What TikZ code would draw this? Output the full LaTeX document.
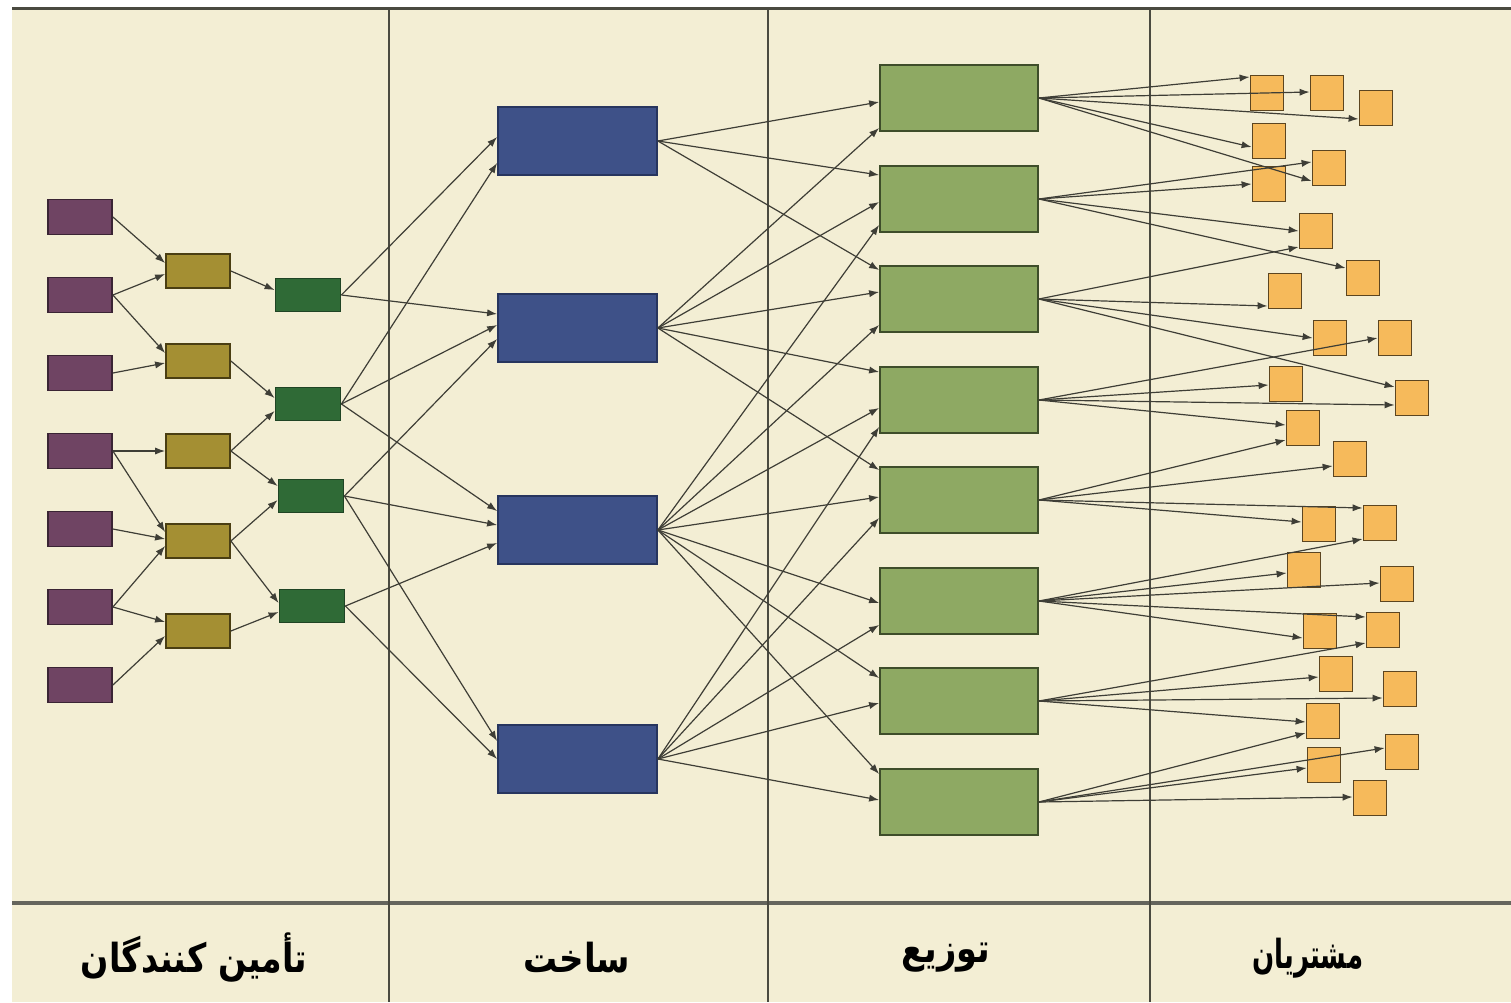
\documentclass[tikz,border=0pt]{standalone}
\usepackage{fontspec}
\newfontfamily\arabicfont[Script=Arabic]{DejaVu Sans}
\TeXXeTstate=1
\usetikzlibrary{arrows.meta,calc}
\definecolor{bg}{HTML}{F3EED4}
\definecolor{rule}{HTML}{4A4A40}
\definecolor{cline}{HTML}{3E3E36}
\definecolor{cpur}{HTML}{6F4463}\definecolor{cpurd}{HTML}{3A2434}
\definecolor{cgold}{HTML}{A48F33}\definecolor{cgoldd}{HTML}{4A3E12}
\definecolor{cdg}{HTML}{2F6A36}\definecolor{cdgd}{HTML}{1F4424}
\definecolor{cblue}{HTML}{3E5188}\definecolor{cblued}{HTML}{27355E}
\definecolor{clg}{HTML}{8EA963}\definecolor{clgd}{HTML}{3E4D2A}
\definecolor{corg}{HTML}{F6BA5B}\definecolor{corgd}{HTML}{5C4520}
\tikzset{
  box/.style={rectangle, inner sep=0pt, line width=0.9pt},
  pur/.style={box, fill=cpur, draw=cpurd, minimum width=32pt, minimum height=17.5pt},
  gold/.style={box, fill=cgold, draw=cgoldd, minimum width=32pt, minimum height=17pt},
  dgr/.style={box, fill=cdg, draw=cdgd, minimum width=32.5pt, minimum height=16.5pt},
  blu/.style={box, fill=cblue, draw=cblued, minimum width=79.5pt, minimum height=34pt},
  lgr/.style={box, fill=clg, draw=clgd, minimum width=79pt, minimum height=33pt},
  org/.style={box, fill=corg, draw=corgd, minimum width=16.5pt, minimum height=17.5pt},
  conn/.style={draw=cline, line width=0.6pt, -{Latex[length=5pt,width=3.6pt]}},
  lbl/.style={font=\arabicfont\bfseries\fontsize{20}{24}\selectfont, text=black, inner sep=0pt},
  vrule/.style={draw=rule, line width=1pt},
}
\newcommand\conto[3]{\draw[conn] (#1.east) -- ($(#2.west)+(0,#3)$);}
\begin{document}
\begin{tikzpicture}[x=0.5pt,y=-0.5pt]
\useasboundingbox (0,0) rectangle (1511,1002);
\fill[white] (0,0) rectangle (1511,1002);
\fill[bg] (12,8) rectangle (1511,1002);
% frame lines
\draw[draw=rule, line width=1.5pt] (12,8) -- (1511,8);
\draw[draw=rule!85, line width=2pt] (12,903) -- (1511,903);
\draw[vrule] (389,8) -- (389,1002);
\draw[vrule] (768,8) -- (768,1002);
\draw[vrule] (1150,8) -- (1150,1002);
% labels
\node[lbl] (t1) at (194,958) {\scalebox{0.83}[1]{\beginR تأمین کنندگان\endR}};
\node[lbl] (t2) at (577,958) {\scalebox{0.85}[1]{\beginR ساخت\endR}};
\node[lbl] (t3) at (946,958) {\scalebox{0.84}[1]{\beginR توزیع\endR}};
\node[lbl] (t4) at (1308,958) {\scalebox{0.65}[1]{\beginR مشتریان\endR}};
% suppliers tier 1
\node[pur] (P1) at (80,217) {};
\node[pur] (P2) at (80,295) {};
\node[pur] (P3) at (80,373) {};
\node[pur] (P4) at (80,451) {};
\node[pur] (P5) at (80,529) {};
\node[pur] (P6) at (80,607) {};
\node[pur] (P7) at (80,685) {};
% tier 2
\node[gold] (G1) at (198,271) {};
\node[gold] (G2) at (198,361) {};
\node[gold] (G3) at (198,451) {};
\node[gold] (G4) at (198,541) {};
\node[gold] (G5) at (198,631) {};
% tier 3
\node[dgr] (D1) at (308,295) {};
\node[dgr] (D2) at (308,404) {};
\node[dgr] (D3) at (311,496) {};
\node[dgr] (D4) at (312,606) {};
% manufacturing
\node[blu] (B1) at (577.5,141) {};
\node[blu] (B2) at (577.5,328) {};
\node[blu] (B3) at (577.5,530) {};
\node[blu] (B4) at (577.5,759) {};
% distribution
\node[lgr] (L1) at (959,98) {};
\node[lgr] (L2) at (959,199) {};
\node[lgr] (L3) at (959,299) {};
\node[lgr] (L4) at (959,400) {};
\node[lgr] (L5) at (959,500) {};
\node[lgr] (L6) at (959,601) {};
\node[lgr] (L7) at (959,701) {};
\node[lgr] (L8) at (959,802) {};
% customers
\node[org] (C1) at (1267,93) {};
\node[org] (C2) at (1327,93) {};
\node[org] (C3) at (1376,108) {};
\node[org] (C4) at (1269,141) {};
\node[org] (C5) at (1329,168) {};
\node[org] (C6) at (1269,184) {};
\node[org] (C7) at (1316,231) {};
\node[org] (C8) at (1363,278) {};
\node[org] (C9) at (1285,291) {};
\node[org] (C10) at (1330,338) {};
\node[org] (C11) at (1395,338) {};
\node[org] (C12) at (1286,384) {};
\node[org] (C13) at (1412,398) {};
\node[org] (C14) at (1303,428) {};
\node[org] (C15) at (1350,459) {};
\node[org] (C16) at (1319,524) {};
\node[org] (C17) at (1380,523) {};
\node[org] (C18) at (1304,570) {};
\node[org] (C19) at (1397,584) {};
\node[org] (C20) at (1320,631) {};
\node[org] (C21) at (1383,630) {};
\node[org] (C22) at (1336,674) {};
\node[org] (C23) at (1400,689) {};
\node[org] (C24) at (1323,721) {};
\node[org] (C25) at (1324,765) {};
\node[org] (C26) at (1402,752) {};
\node[org] (C27) at (1370,798) {};
% supplier links
\conto{P1}{G1}{-8}
\conto{P2}{G1}{3}
\conto{P2}{G2}{-8}
\conto{P3}{G2}{2}
\conto{P4}{G3}{0}
\conto{P4}{G4}{-9}
\conto{P5}{G4}{-2}
\conto{P6}{G4}{5}
\conto{P6}{G5}{-9}
\conto{P7}{G5}{5}
\conto{G1}{D1}{-5}
\conto{G2}{D2}{-6}
\conto{G3}{D2}{7}
\conto{G3}{D3}{-10}
\conto{G4}{D3}{4}
\conto{G4}{D4}{-3}
\conto{G5}{D4}{6}
% to manufacturing
\conto{D1}{B1}{-4}
\conto{D2}{B1}{22}
\conto{D1}{B2}{-14}
\conto{D2}{B2}{-3}
\conto{D3}{B2}{11}
\conto{D2}{B3}{-19}
\conto{D3}{B3}{-5}
\conto{D4}{B3}{13}
\conto{D3}{B4}{-18}
\conto{D4}{B4}{0}
% to distribution
\conto{B1}{L1}{4}
\conto{B2}{L1}{30}
\conto{B1}{L2}{-24}
\conto{B2}{L2}{3}
\conto{B3}{L2}{26}
\conto{B1}{L3}{-29}
\conto{B2}{L3}{-7}
\conto{B3}{L3}{26}
\conto{B2}{L4}{-28}
\conto{B3}{L4}{8}
\conto{B4}{L4}{27}
\conto{B2}{L5}{-30}
\conto{B3}{L5}{-3}
\conto{B4}{L5}{18}
\conto{B3}{L6}{2}
\conto{B4}{L6}{24}
\conto{B3}{L7}{-23}
\conto{B4}{L7}{2}
\conto{B3}{L8}{-28}
\conto{B4}{L8}{-2}
% to customers
\conto{L1}{C1}{-16}
\conto{L1}{C2}{-1}
\conto{L1}{C3}{11}
\conto{L1}{C4}{6}
\conto{L1}{C5}{13}
\conto{L2}{C5}{-6}
\conto{L2}{C6}{0}
\conto{L2}{C7}{0}
\conto{L2}{C8}{-10}
\conto{L3}{C7}{16}
\conto{L3}{C9}{15}
\conto{L3}{C10}{0}
\conto{L3}{C13}{-11}
\conto{L4}{C11}{0}
\conto{L4}{C12}{1}
\conto{L4}{C13}{7}
\conto{L4}{C14}{-3}
\conto{L5}{C14}{12}
\conto{L5}{C15}{7}
\conto{L5}{C17}{-15}
\conto{L5}{C16}{-2}
\conto{L6}{C17}{16}
\conto{L6}{C18}{3}
\conto{L6}{C19}{-1}
\conto{L6}{C21}{-13}
\conto{L6}{C20}{7}
\conto{L7}{C21}{13}
\conto{L7}{C22}{3}
\conto{L7}{C23}{9}
\conto{L7}{C24}{1}
\conto{L8}{C24}{12}
\conto{L8}{C26}{-4}
\conto{L8}{C25}{3}
\conto{L8}{C27}{-1}
\end{tikzpicture}
\end{document}
